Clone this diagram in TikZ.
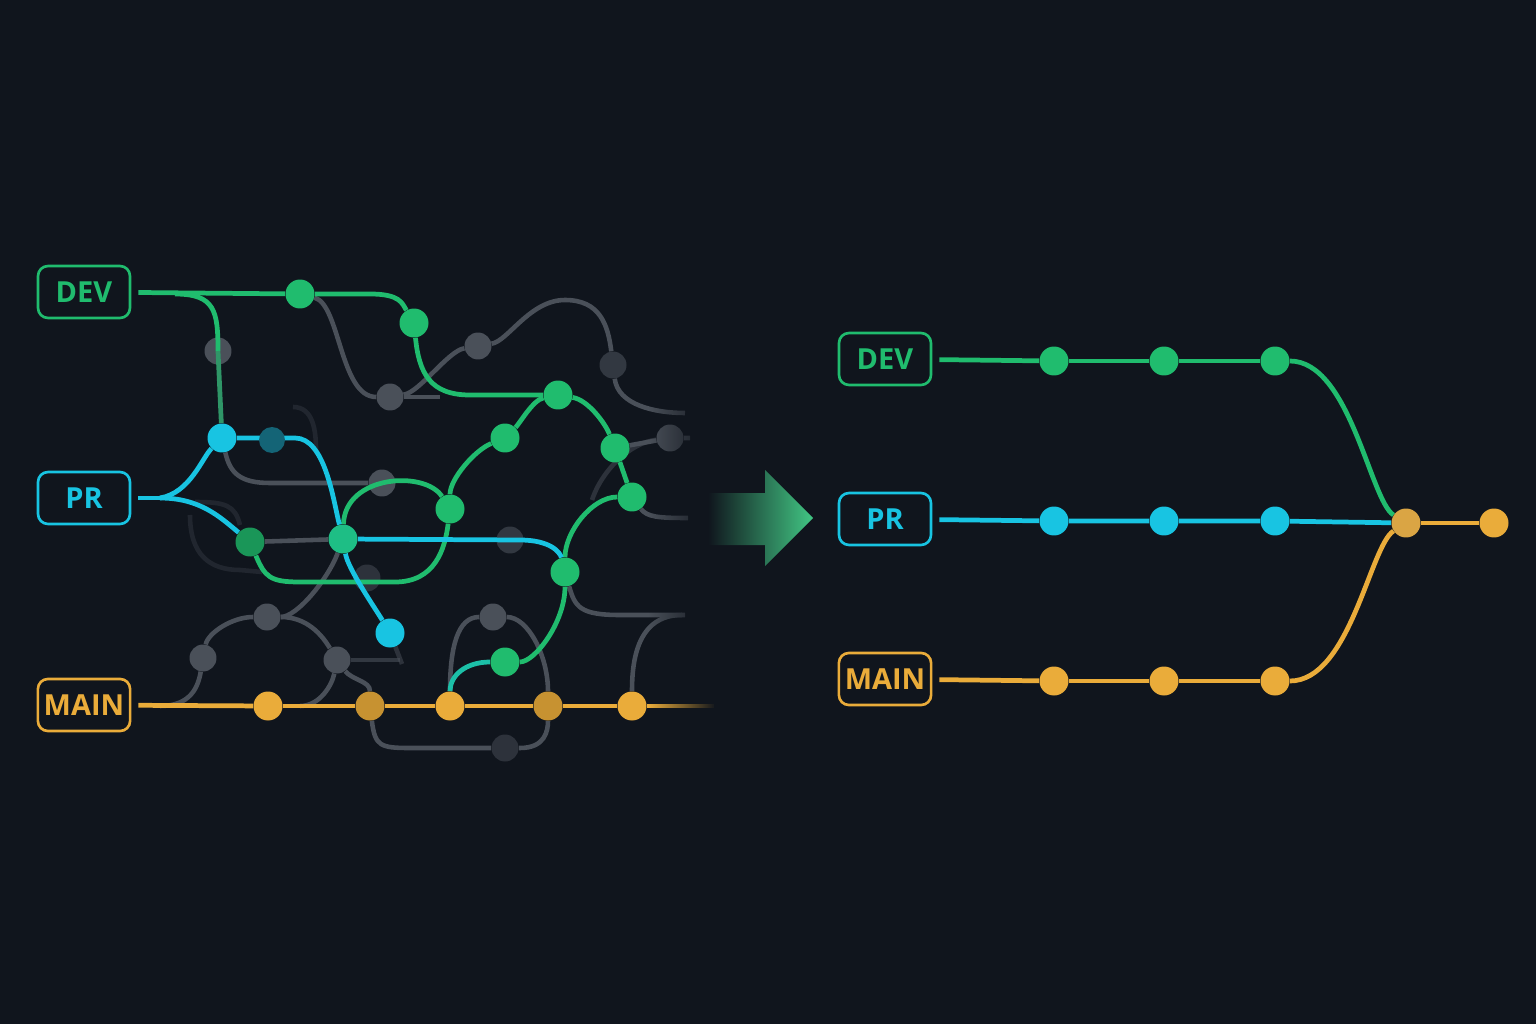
\documentclass[tikz,border=0pt]{standalone}
\usepackage{tikz}
\usepackage{xcolor}
\usepackage{fontspec}
\setsansfont{Open Sans}
\usetikzlibrary{
    positioning,
    calc,
    fadings
  }
\definecolor{bgcolor}{RGB}{16,21,29}
\definecolor{devcolor}{RGB}{32,188,110}
\definecolor{prcolor}{RGB}{24,196,226}
\definecolor{maincolor}{RGB}{234,172,58}
\definecolor{ghostcolor}{RGB}{74,80,89}
\tikzfading[name=fadeoutright, left color=transparent!100, right color=transparent!0]
\pgfdeclarelayer{backdrop}
\pgfdeclarelayer{ghostlines}
\pgfdeclarelayer{ghostdots}
\pgfdeclarelayer{tracks}
\pgfsetlayers{backdrop,ghostlines,ghostdots,tracks,main}
\tikzset{
  branch/.style={draw=#1, fill=bgcolor, rounded corners=0.2cm, line width=1.5pt,
    minimum width=1.84cm, minimum height=1.04cm, text=#1,
    font=\sffamily\bfseries\fontsize{16.5}{18}\selectfont},
  commit/.style={circle, fill=#1, minimum size=0.58cm, inner sep=0pt},
  ghost/.style={circle, fill=ghostcolor, minimum size=0.54cm, inner sep=0pt},
  track/.style={draw=#1, line width=2.7pt},
  ghostline/.style={draw=ghostcolor, line width=2.6pt},
  fromlabel/.style={shorten <=0.14cm},
}

\begin{document}
\begin{tikzpicture}[x=0.02cm, y=-0.02cm]

\begin{pgfonlayer}{backdrop}
\path[fill=bgcolor] (0,0) rectangle (1536,1024);
\end{pgfonlayer}
\useasboundingbox (0,0) rectangle (1536,1024);

\node[branch=devcolor] (dev_left) at (84,292) {DEV};
\node[branch=prcolor] (pr_left) at (84,498) {PR};
\node[branch=maincolor] (main_left) at (84,705) {MAIN};
\coordinate (dev_split) at (175,294);
\coordinate (pr_split) at (160,498);

\node[commit=devcolor] (dev_1) at (300,294) {};
\node[commit=devcolor] (dev_2) at (414,323) {};
\node[commit=devcolor] (dev_3) at (558,395) {};
\node[commit=devcolor] (dev_4) at (505,438) {};
\node[commit=devcolor] (dev_5) at (615,448) {};
\node[commit=devcolor] (dev_6) at (632,497) {};
\node[commit=devcolor] (dev_7) at (450,509) {};
\node[commit=devcolor!80!prcolor] (dev_8) at (343,539) {};
\node[commit=devcolor!80!black] (dev_9) at (250,542) {};
\node[commit=devcolor] (dev_10) at (565,572) {};
\node[commit=devcolor] (dev_11) at (505,662) {};

\node[commit=prcolor] (pr_1) at (222,438) {};
\node[commit=prcolor] (pr_2) at (390,633) {};
\node[commit=prcolor!45!bgcolor, minimum size=0.52cm] (pr_3) at (272,440) {};

\node[commit=maincolor] (main_1) at (268,706) {};
\node[commit=maincolor!85!black] (main_2) at (370,706) {};
\node[commit=maincolor] (main_3) at (450,706) {};
\node[commit=maincolor!85!black] (main_4) at (548,706) {};
\node[commit=maincolor] (main_5) at (632,706) {};

\begin{pgfonlayer}{ghostdots}
\node[ghost] (ghost_1) at (218,351) {};
\node[ghost] (ghost_2) at (390,397) {};
\node[ghost] (ghost_3) at (478,346) {};
\node[ghost, opacity=0.6] (ghost_4) at (613,365) {};
\node[ghost] (ghost_5) at (670,438) {};
\node[ghost] (ghost_6) at (382,483) {};
\node[ghost] (ghost_7) at (267,617) {};
\node[ghost] (ghost_8) at (203,658) {};
\node[ghost] (ghost_9) at (337,660) {};
\node[ghost] (ghost_10) at (493,617) {};
\node[ghost, opacity=0.5] (ghost_11) at (505,748) {};
\node[ghost, opacity=0.6] (ghost_12) at (510,540) {};
\node[ghost, opacity=0.5] (ghost_13) at (367,578) {};
\end{pgfonlayer}

\begin{pgfonlayer}{ghostlines}
\path[ghostline] (dev_1) .. controls +(40,10) and +(-50,0) .. (ghost_2);
\path[ghostline] (ghost_2) -- (440,397);
\path[ghostline] (ghost_2) .. controls +(30,-5) and +(-30,5) .. (ghost_3);
\path[ghostline] (ghost_3) .. controls +(30,-5) and +(-35,0) .. (565,300)
  .. controls +(35,0) and +(-5,-40) .. (ghost_4);
\path[ghostline] (ghost_4) .. controls +(5,40) and +(-30,0) .. (685,413);
\path[ghostline] (pr_1) .. controls +(8,35) and +(-30,0) .. (270,483) -- (ghost_6);
\path[ghostline] (dev_9) -- (dev_8);
\path[ghostline] (dev_8) .. controls +(-15,40) and +(30,0) .. (ghost_7);
\path[ghostline] (ghost_7) .. controls +(-35,0) and +(5,-25) .. (ghost_8);
\path[ghostline] (ghost_8) .. controls +(-5,30) and +(30,0) .. (160,706);
\path[ghostline] (ghost_7) .. controls +(40,0) and +(-15,-25) .. (ghost_9);
\path[ghostline] (ghost_9) .. controls +(15,20) and +(0,-25) .. (main_2);
\path[ghostline] (ghost_9) .. controls +(-5,25) and +(20,0) .. (300,706);
\path[ghostline, opacity=0.6] (ghost_9) -- (400,660);
\path[ghostline] (main_2) .. controls +(5,40) and +(-30,0) .. (410,748) -- (ghost_11)
  -- (520,748) .. controls +(25,0) and +(0,25) .. (main_4);
\path[ghostline] (main_3) .. controls +(0,-60) and +(-35,0) .. (ghost_10);
\path[ghostline] (ghost_10) .. controls +(35,0) and +(0,-50) .. (main_4);
\path[ghostline] (dev_10) .. controls +(10,35) and +(-40,0) .. (620,615) -- (685,615);
\coordinate (ghost_end) at (682,615);
\path[ghostline] (ghost_end) .. controls +(-45,0) and +(0,-45) .. (main_5);
\path[ghostline] (dev_5) -- (ghost_5) -- (690,438);
\path[ghostline] (dev_6) .. controls +(15,20) and +(-30,0) .. (688,518);
\path[ghostline, opacity=0.5] (ghost_5) .. controls +(-40,5) and +(10,-30) .. (592,500);
\path[ghostline, opacity=0.5] (pr_2) -- (402,664);
\path[ghostline, opacity=0.3] (293,407) .. controls +(20,0) and +(0,-20) .. (316,450);
\path[ghostline, opacity=0.3] (195,502) .. controls +(30,0) and +(-5,-20) .. (240,525);
\path[ghostline, opacity=0.3] (190,515) .. controls +(0,40) and +(-30,0) .. (240,570) -- (262,572);
\end{pgfonlayer}

\begin{pgfonlayer}{tracks}
\path[track=devcolor, fromlabel] (dev_left) -- (dev_1);
\path[track=devcolor] (dev_1) -- (370,294) .. controls +(30,0) and +(-12,-20) .. (dev_2);
\path[track=devcolor] (dev_2) .. controls +(5,50) and +(-40,0) .. (470,395) -- (dev_3);
\path[track=devcolor] (dev_split) .. controls +(40,0) and +(0,-40) .. (ghost_1.center);
\path[track=devcolor!65!ghostcolor] (ghost_1.center) -- (pr_1);
\path[track=devcolor] (dev_3) .. controls +(-25,5) and +(15,-15) .. (dev_4);
\path[track=devcolor] (dev_4) .. controls +(-30,12) and +(0,-30) .. (dev_7);
\path[track=devcolor] (dev_3) .. controls +(30,5) and +(-10,-25) .. (dev_5);
\path[track=devcolor] (dev_5) -- (dev_6);
\path[track=devcolor] (dev_6) .. controls +(-40,0) and +(0,-40) .. (dev_10);
\path[track=devcolor] (dev_10) .. controls +(0,50) and +(30,0) .. (dev_11);
\path[track=devcolor!50!prcolor] (dev_11) .. controls +(-40,0) and +(0,-30) .. (main_3);
\path[track=devcolor] (dev_9) .. controls +(15,35) and +(-30,0) .. (300,582) -- (395,582)
  .. controls +(40,0) and +(-5,40) .. (dev_7);
\path[track=devcolor] (dev_8) .. controls (345,475) and (425,470) .. (dev_7);

\path[track=prcolor, fromlabel] (pr_left) -- (pr_split);
\path[track=prcolor] (pr_split) .. controls +(30,-5) and +(-20,20) .. (pr_1);
\path[track=prcolor] (pr_split) .. controls +(40,0) and +(-30,-25) .. (dev_9);
\path[track=prcolor] (pr_1) -- (295,438) .. controls +(30,0) and +(-10,-40) .. (dev_8);
\path[track=prcolor] (dev_8) .. controls +(5,30) and +(-15,-25) .. (pr_2);
\path[track=prcolor] (dev_8) -- (520,540) .. controls +(30,0) and +(-5,-20) .. (dev_10);

\path[track=maincolor, fromlabel] (main_left) -- (main_1);
\path[track=maincolor] (main_1) -- (main_2) -- (main_3) -- (main_4) -- (main_5);
\path[track=maincolor] (main_5) -- (714,706);
\end{pgfonlayer}

\path[fill=bgcolor, path fading=fadeoutright] (648,270) rectangle (716,780);

\shade[left color=bgcolor, middle color=devcolor!70!bgcolor, right color=devcolor!85!white]
  (708,493) -- (765,493) -- (765,470) -- (813,518) -- (765,566) -- (765,545) -- (708,545) -- cycle;

\node[branch=devcolor] (dev_right) at (885,359) {DEV};
\node[branch=prcolor] (pr_right) at (885,519) {PR};
\node[branch=maincolor] (main_right) at (885,679) {MAIN};

\foreach \i/\x in {1/1054,2/1164,3/1275}{
  \node[commit=devcolor] (dev_r\i) at (\x,361) {};
  \node[commit=prcolor] (pr_r\i) at (\x,521) {};
  \node[commit=maincolor] (main_r\i) at (\x,681) {};
}
\node[commit=maincolor!85!gray] (merge) at (1406,523) {};
\node[commit=maincolor] (release) at (1494,523) {};

\begin{pgfonlayer}{tracks}
\path[track=devcolor, fromlabel] (dev_right) -- (dev_r1);
\path[track=devcolor] (dev_r1) -- (dev_r2) -- (dev_r3);
\path[track=devcolor] (dev_r3) .. controls +(75,0) and +(-36,-23) .. (merge);
\path[track=prcolor, fromlabel] (pr_right) -- (pr_r1);
\path[track=prcolor] (pr_r1) -- (pr_r2) -- (pr_r3) -- (merge);
\path[track=maincolor, fromlabel] (main_right) -- (main_r1);
\path[track=maincolor] (main_r1) -- (main_r2) -- (main_r3);
\path[track=maincolor] (main_r3) .. controls +(75,0) and +(-36,23) .. (merge);
\path[track=maincolor] (merge) -- (release);
\end{pgfonlayer}

\end{tikzpicture}
\end{document}
